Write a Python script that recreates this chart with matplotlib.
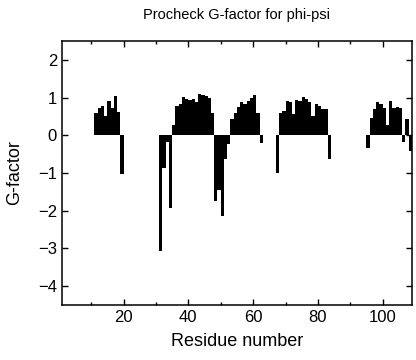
import numpy as np
import matplotlib
matplotlib.use('Agg')
from matplotlib import pyplot as plt

plt.rcParams['font.family'] = ['Liberation Sans', 'DejaVu Sans']

# residue number and Procheck G-factor (phi-psi), residues without a bar left out
res_a = np.arange(11, 20)
g_a = [0.58, 0.72, 0.79, 0.51, 0.91, 0.73, 1.03, 0.63, -1.02]
res_b = np.arange(31, 63)
g_b = [-3.08, -0.86, -0.18, -1.94,
       0.26, 0.79, 0.84, 1.02, 0.95, 0.93, 0.97, 0.88, 1.10, 1.07, 1.03, 0.99, 0.60,
       -1.75, -1.45, -2.15, -0.62, -0.22,
       0.44, 0.59, 0.75, 0.88, 0.84, 0.90, 0.98, 1.07, 0.60, -0.20]
res_c = np.arange(67, 84)
g_c = [-1.00, 0.58, 0.64, 0.91, 0.87, 0.56, 0.94, 0.92, 1.02, 0.97, 0.89, 0.50,
       0.84, 0.79, 0.70, 0.69, -0.63]
res_d = np.arange(95, 109)
g_d = [-0.33, 0.45, 0.69, 0.87, 0.84, 0.72, 0.27, 0.91, 0.72, 0.75, 0.73,
       -0.18, 0.42, -0.42]

residues = np.concatenate([res_a, res_b, res_c, res_d])
gfactor = np.concatenate([g_a, g_b, g_c, g_d])

fig = plt.figure(figsize=(4.16, 3.6), dpi=100)
ax = fig.add_axes([0.149, 0.153, 0.841, 0.733])
ax.bar(residues, gfactor, width=1.0, align='edge', color='black', linewidth=0)

ax.set_xlim(1, 109)
ax.set_ylim(-4.5, 2.5)
ax.set_xticks([20, 40, 60, 80, 100])
ax.set_xticks(np.arange(10, 110, 20), minor=True)
ax.set_yticks([-4, -3, -2, -1, 0, 1, 2])
ax.tick_params(which='both', direction='in', top=True, right=True, labelsize=12, width=1)
ax.tick_params(which='major', length=4)
ax.tick_params(which='minor', length=2.5)
for s in ax.spines.values():
    s.set_linewidth(1.1)

ax.set_title('Procheck G-factor for phi-psi', fontsize=10.5, pad=16)
ax.set_xlabel('Residue number', fontsize=13, labelpad=6)
ax.set_ylabel('G-factor', fontsize=13, labelpad=11)

fig.savefig('out.png', dpi=100)
